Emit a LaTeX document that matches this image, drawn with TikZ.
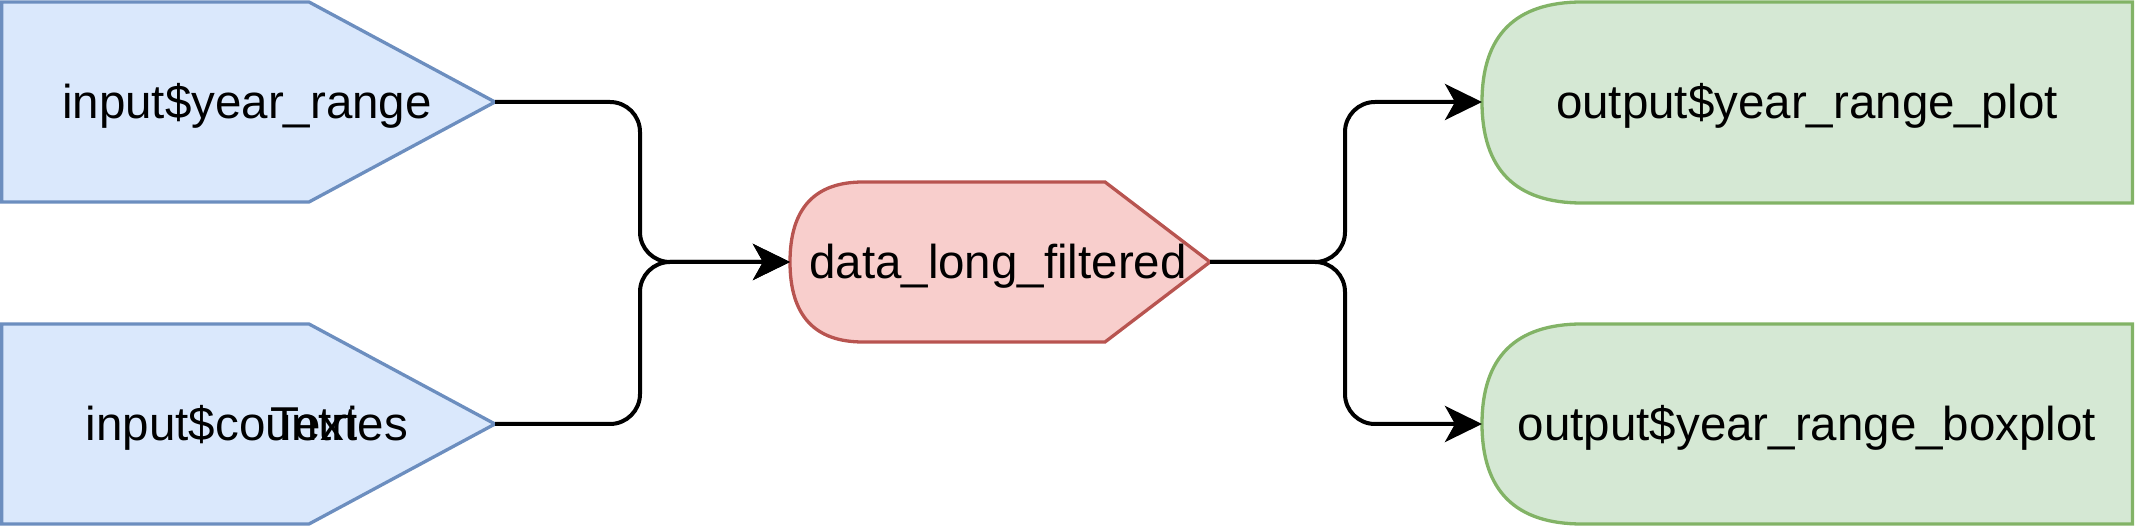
\documentclass[tikz,border=0pt]{standalone}
\usepackage{fontspec}
\setmainfont{Liberation Sans}
\usetikzlibrary{arrows.meta}
\definecolor{inFill}{HTML}{DAE8FC}
\definecolor{inLine}{HTML}{6C8EBF}
\definecolor{dataFill}{HTML}{F8CECC}
\definecolor{dataLine}{HTML}{B85450}
\definecolor{outFill}{HTML}{D5E8D4}
\definecolor{outLine}{HTML}{82B366}
\begin{document}
\begin{tikzpicture}[x=0.5pt, y=-0.5pt,
  inbox/.style={fill=inFill, draw=inLine, line width=1.65pt},
  databox/.style={fill=dataFill, draw=dataLine, line width=1.65pt},
  outbox/.style={fill=outFill, draw=outLine, line width=1.65pt},
  label/.style={font=\fontsize{23.75pt}{28pt}\selectfont, inner sep=0pt, text height=21.5pt, text depth=5pt},
  flow/.style={line width=2pt, rounded corners=15pt, -{Stealth[length=18.5pt, width=18pt, inset=5pt]}}]
\useasboundingbox (0,0) rectangle (2136,528);

% inputs
\draw [inbox] (1.7,2) -- (309,2) -- (495,102) -- (309,202) -- (1.7,202) -- cycle ;
\draw [inbox] (1.7,324) -- (309,324) -- (495,424) -- (309,524) -- (1.7,524) -- cycle ;
\node [label] (yr) at (247,102) {input\$year\_range} ;
\node [label] (ctry) at (247,424) {input\$countries} ;
\node [label] (txt) at (314,424) {Text} ;

% reactive data
\draw [databox] (863,182) -- (1105,182) -- (1210,262) -- (1105,342) -- (863,342) .. controls (814.3,342) and (790,315.3) .. (790,262) .. controls (790,208.7) and (814.3,182) .. (863,182) -- cycle ;
\node [label] (dlf) at (998,262) {data\_long\_filtered} ;

% outputs
\draw [outbox] (2132.5,2) -- (2132.5,203) -- (1582,203) .. controls (1515.3,203) and (1482,169.3) .. (1482,102) .. controls (1482,35.3) and (1515.3,2) .. (1582,2) -- cycle ;
\draw [outbox] (2132.5,324) -- (2132.5,524) -- (1582,524) .. controls (1515.3,524) and (1482,490.7) .. (1482,424) .. controls (1482,357.3) and (1515.3,324) .. (1582,324) -- cycle ;
\node [label] (plot) at (1807,102) {output\$year\_range\_plot} ;
\node [label] (boxp) at (1807,424) {output\$year\_range\_boxplot} ;

\coordinate (yrtip) at (495,102) ;
\coordinate (ctrytip) at (495,424) ;
\coordinate (dlfin) at (790,262) ;
\coordinate (dlftip) at (1210,262) ;
\coordinate (plotin) at (1482,102) ;
\coordinate (boxpin) at (1482,424) ;

\draw [flow] (yrtip) -- (640,102) -- (640,262) -- (dlfin) ;
\draw [flow] (ctrytip) -- (640,424) -- (640,262) -- (dlfin) ;
\draw [flow] (dlftip) -- (1345,262) -- (1345,102) -- (plotin) ;
\draw [flow] (dlftip) -- (1345,262) -- (1345,424) -- (boxpin) ;

\end{tikzpicture}
\end{document}
